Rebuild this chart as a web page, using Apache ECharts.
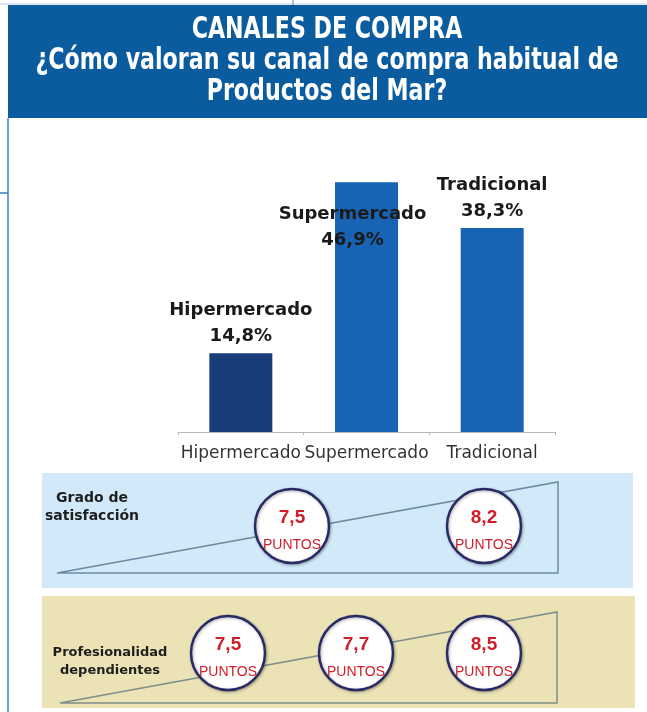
<!DOCTYPE html>
<html>
<head>
<meta charset="utf-8">
<title>Canales de compra</title>
<style>
  html, body { margin: 0; padding: 0; background: #fff; }
  #chart { width: 647px; height: 712px; }
</style>
<script src="https://cdn.jsdelivr.net/npm/echarts@6/dist/echarts.min.js"></script>
</head>
<body>
<div id="chart"></div>
<script>
// data
const channels = ['Hipermercado', 'Supermercado', 'Tradicional'];
const shares = [14.8, 46.9, 38.3];

const satisfaccionLabel = 'Grado de\nsatisfacción';
const satisfaccionGroups = [['Hipermercado', 'Supermercado'], ['Tradicional']];
const satisfaccionScores = [7.5, 8.2];

const profesionalidadLabel = 'Profesionalidad\ndependientes';
const profesionalidadGroups = [['Hipermercado'], ['Supermercado'], ['Tradicional']];
const profesionalidadScores = [7.5, 7.7, 8.5];

const titleText = 'CANALES DE COMPRA\n¿Cómo valoran su canal de compra habitual de\nProductos del Mar?';

const fmt = v => v.toFixed(1).replace('.', ',');

// position of a score circle = mean index of the channels it covers
function scoreData(groups, scores) {
    return scores.map((s, i) => {
        const idx = groups[i].map(c => channels.indexOf(c));
        const pos = idx.reduce((a, b) => a + b, 0) / idx.length;
        return { value: [pos, 0], score: s };
    });
}

const navy = '#183d7b';
const blue = '#1764b5';

const barData = shares.map((v, i) => {
    const item = { value: v, itemStyle: { color: i === 0 ? navy : blue } };
    // the Supermercado label sits inside the top of its bar in the original
    if (i === 1) item.label = { position: 'insideTop', distance: 0, offset: [-14, 19] };
    return item;
});

const circleStyle = {
    type: 'scatter',
    symbol: 'circle',
    symbolSize: 74,
    itemStyle: {
        color: '#ffffff',
        opacity: 1,
        borderColor: '#282a66',
        borderWidth: 2.5,
        shadowColor: 'rgba(0,0,0,0.3)',
        shadowBlur: 3,
        shadowOffsetX: 1,
        shadowOffsetY: 1
    },
    label: {
        show: true,
        position: 'inside',
        offset: [0, 8],
        formatter: p => '{v|' + fmt(p.data.score) + '}\n{p|PUNTOS}',
        rich: {
            v: { fontFamily: '"Liberation Sans", Arial, sans-serif', fontWeight: 'bold', fontSize: 19, color: '#d01d28', lineHeight: 22, align: 'center' },
            p: { fontFamily: '"Liberation Sans", Arial, sans-serif', fontSize: 14, color: '#d01d28', lineHeight: 32, align: 'center' }
        }
    },
    silent: true
};

function panelAxisLabel(margin, size, formatter) {
    return {
        margin: margin,
        formatter: formatter,
        fontFamily: '"DejaVu Sans", sans-serif',
        fontWeight: 'bold',
        fontSize: size,
        lineHeight: 18,
        color: '#1e1e1e',
        align: 'center',
        rich: { s: { lineHeight: 18 }, s2: { lineHeight: 38 } }
    };
}

const chart = echarts.init(document.getElementById('chart'), null, { renderer: 'canvas' });

chart.setOption({
    animation: false,
    backgroundColor: '#ffffff',
    graphic: [
        // header and frame
        { type: 'rect', z: 0, shape: { x: 8, y: 5, width: 639, height: 113 }, style: { fill: '#0b5c9f' } },
        {
            type: 'text', z: 1, x: 327, y: 15, scaleX: 0.82,
            style: {
                text: titleText,
                x: 0, y: 0,
                align: 'center',
                verticalAlign: 'top',
                fill: '#ffffff',
                fontFamily: '"DejaVu Sans Condensed", "DejaVu Sans", sans-serif',
                fontWeight: 'bold',
                fontSize: 30,
                lineHeight: 31
            }
        },
        { type: 'line', z: 0, shape: { x1: 0, y1: 4, x2: 647, y2: 4 }, style: { stroke: '#b9d0e6', lineWidth: 1 } },
        { type: 'line', z: 0, shape: { x1: 293, y1: 0, x2: 293, y2: 5 }, style: { stroke: '#5b8cc0', lineWidth: 1 } },
        { type: 'line', z: 0, shape: { x1: 8, y1: 118, x2: 8, y2: 712 }, style: { stroke: '#3d7dbf', lineWidth: 1.5 } },
        { type: 'line', z: 0, shape: { x1: 0, y1: 193, x2: 8, y2: 193 }, style: { stroke: '#3d7dbf', lineWidth: 1.5 } },
        // score panels
        { type: 'rect', z: 0, shape: { x: 42, y: 473, width: 591, height: 115 }, style: { fill: '#d2e9f9' } },
        { type: 'rect', z: 0, shape: { x: 42, y: 596, width: 593, height: 112 }, style: { fill: '#ebe2b5' } },
        { type: 'polygon', z: 1, shape: { points: [[57, 573], [558, 482], [558, 573]] }, style: { fill: 'none', stroke: '#6c8aa3', lineWidth: 1.5 } },
        { type: 'polygon', z: 1, shape: { points: [[60, 703], [557, 612], [557, 703]] }, style: { fill: 'none', stroke: '#7e8f8c', lineWidth: 1.5 } }
    ],
    grid: [
        { left: 178, width: 377, top: 139, height: 293 },
        { left: 228, width: 256, top: 506, height: 40 },
        { left: 228, width: 256, top: 633, height: 40 }
    ],
    xAxis: [
        {
            type: 'category',
            gridIndex: 0,
            data: channels,
            axisLine: { lineStyle: { color: '#b8b8b8', width: 1 } },
            axisTick: { show: true, length: 3, lineStyle: { color: '#b8b8b8' } },
            axisLabel: {
                interval: 0,
                margin: 13,
                color: '#333',
                fontFamily: '"DejaVu Sans", sans-serif',
                fontSize: 17
            }
        },
        { type: 'value', gridIndex: 1, min: 0, max: 2, show: false },
        { type: 'value', gridIndex: 2, min: 0, max: 2, show: false }
    ],
    yAxis: [
        { type: 'value', gridIndex: 0, min: 0, max: 55, show: false },
        {
            type: 'category', gridIndex: 1, data: [satisfaccionLabel], z: 5,
            axisLine: { show: false }, axisTick: { show: false },
            // blank line below lifts the label above the circle centre, as in the original
            axisLabel: panelAxisLabel(136, 14, v => v + '\n{s2|}')
        },
        {
            type: 'category', gridIndex: 2, data: [profesionalidadLabel], z: 5,
            axisLine: { show: false }, axisTick: { show: false },
            axisLabel: panelAxisLabel(118, 13, v => '{s|}\n' + v)
        }
    ],
    series: [
        {
            type: 'bar',
            xAxisIndex: 0,
            yAxisIndex: 0,
            barWidth: 63,
            data: barData,
            label: {
                show: true,
                position: 'top',
                distance: 4,
                formatter: p => p.name + '\n' + fmt(p.value) + '%',
                fontFamily: '"DejaVu Sans", sans-serif',
                fontWeight: 'bold',
                fontSize: 18,
                lineHeight: 26,
                color: '#1a1a1a',
                align: 'center'
            }
        },
        Object.assign({ xAxisIndex: 1, yAxisIndex: 1, data: scoreData(satisfaccionGroups, satisfaccionScores) }, circleStyle),
        Object.assign({ xAxisIndex: 2, yAxisIndex: 2, data: scoreData(profesionalidadGroups, profesionalidadScores) }, circleStyle)
    ]
});
</script>
</body>
</html>
